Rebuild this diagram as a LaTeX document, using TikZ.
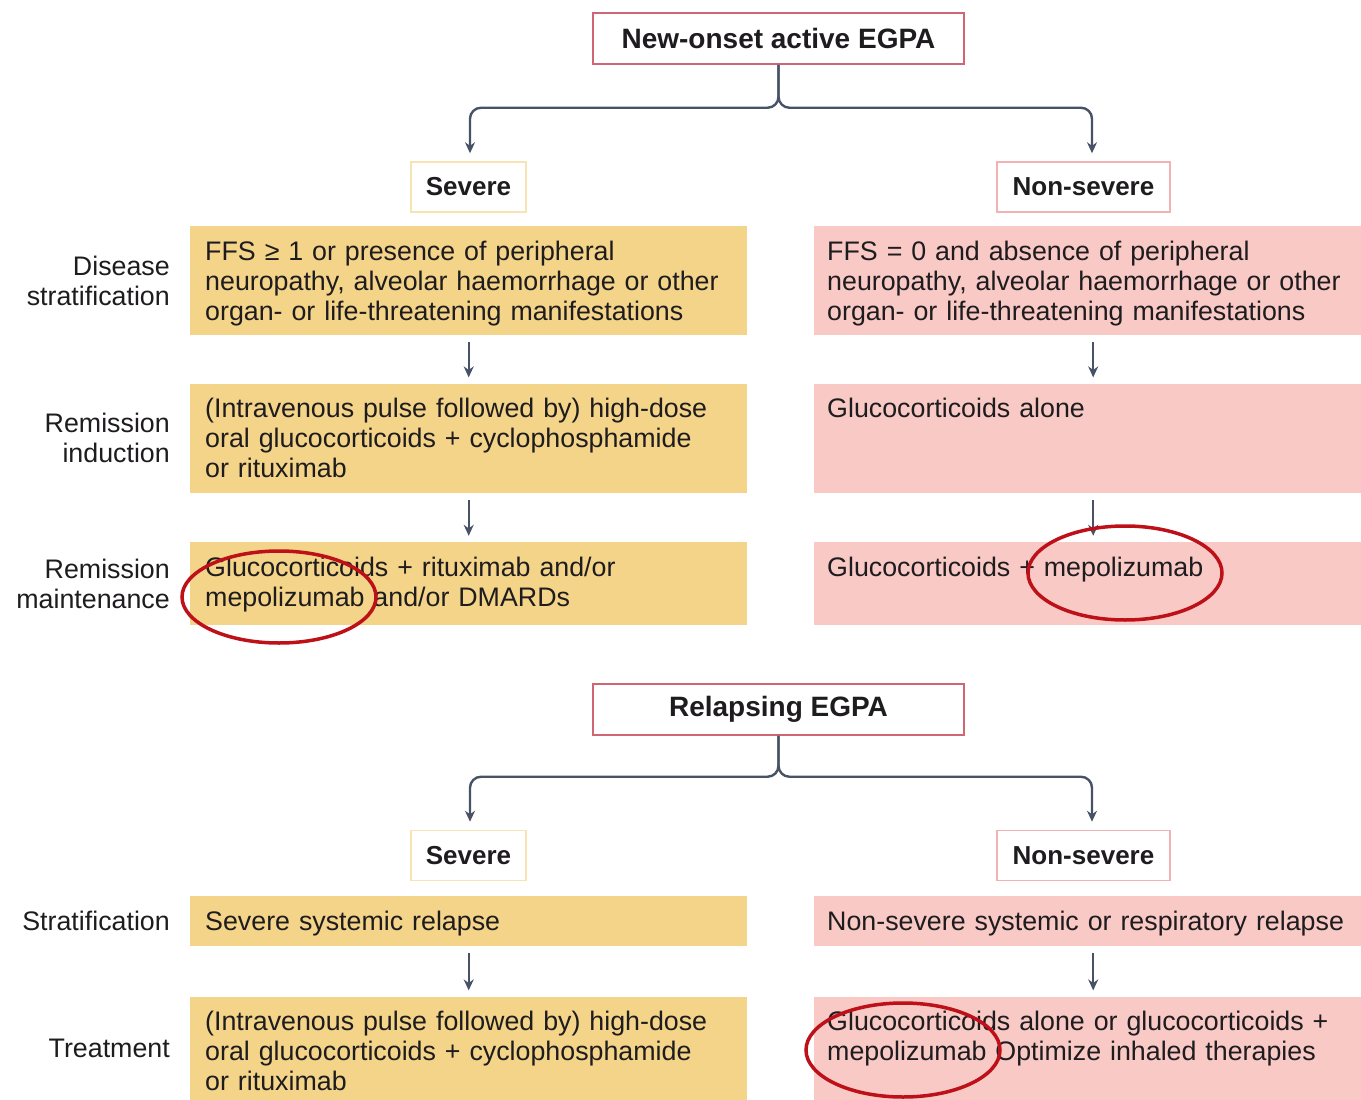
\documentclass[tikz,border=0pt]{standalone}
\usepackage{fontspec}
\setmainfont{Liberation Sans}
\usetikzlibrary{positioning,arrows.meta}
\definecolor{sand}{RGB}{243,212,136}
\definecolor{blush}{RGB}{248,201,197}
\definecolor{sandline}{RGB}{246,228,178}
\definecolor{blushline}{RGB}{240,178,178}
\definecolor{wine}{RGB}{208,102,116}
\definecolor{slate}{RGB}{72,82,102}
\definecolor{ink}{RGB}{30,28,30}
\definecolor{ringred}{RGB}{190,16,24}

\begin{document}
\begin{tikzpicture}[x=1pt, y=1pt,
    txt/.style={font=\fontsize{26.8}{30}\selectfont, text=ink},
    titlebox/.style={txt, font=\fontsize{28}{30}\selectfont\bfseries, draw=wine, line width=1.5pt, minimum width=371pt, minimum height=51pt, inner sep=0pt},
    sevhead/.style={txt, font=\fontsize{26}{30}\selectfont\bfseries, draw=sandline, line width=1.5pt, minimum height=50pt, inner sep=0pt},
    nonsevhead/.style={sevhead, draw=blushline},
    sandbox/.style={txt, fill=sand, text width=527pt, inner xsep=15pt, inner ysep=0pt, text height=34pt, align=left},
    blushbox/.style={txt, fill=blush, text width=521pt, inner xsep=13pt, inner ysep=0pt, text height=34pt, align=left},
    rowlabel/.style={txt, align=right, inner sep=0pt},
    branch/.style={-{Stealth[length=11pt,width=10pt]}, line width=2.4pt, draw=slate, rounded corners=11pt, shorten >=8pt},
    flow/.style={-{Stealth[length=11pt,width=10pt]}, line width=2.2pt, draw=slate, shorten <=7pt, shorten >=6pt},
    ring/.style={draw=ringred, line width=3.5pt}]

\useasboundingbox (0,0) rectangle (1361,-1100);

\node [titlebox] (newonset) at (778.5,-38.5) {New-onset active EGPA};
\node [sevhead, minimum width=115pt] (sev1) at (468.5,-187) {Severe};
\node [nonsevhead, minimum width=173pt] (nonsev1) at (1083.5,-187) {Non-severe};

\node [sandbox, text depth=75pt, anchor=north west] (s1) at (190,-226) {FFS ≥ 1 or presence of peripheral\\neuropathy, alveolar haemorrhage or other\\organ- or life-threatening manifestations};
\node [sandbox, text depth=75pt, below=48pt of s1] (s2) {(Intravenous pulse followed by) high-dose\\oral glucocorticoids + cyclophosphamide\\or rituximab};
\node [sandbox, text depth=49pt, below=49pt of s2] (s3) {Glucocorticoids + rituximab and/or\\mepolizumab and/or DMARDs};

\node [blushbox, text depth=75pt, anchor=north west] (p1) at (814,-226) {FFS = 0 and absence of peripheral\\neuropathy, alveolar haemorrhage or other\\organ- or life-threatening manifestations};
\node [blushbox, text depth=75pt, below=48pt of p1] (p2) {Glucocorticoids alone};
\node [blushbox, text depth=49pt, below=49pt of p2] (p3) {Glucocorticoids + mepolizumab};

\node [rowlabel, left=20pt of s1] (lbl1) {Disease\\stratification};
\node [rowlabel, left=20pt of s2] (lbl2) {Remission\\induction};
\node [rowlabel, left=20pt of s3] (lbl3) {Remission\\maintenance};

\node [titlebox] (relapsing) at (778.5,-709.5) {Relapsing EGPA};
\node [sevhead, minimum width=115pt] (sev2) at (468.5,-855.5) {Severe};
\node [nonsevhead, minimum width=173pt] (nonsev2) at (1083.5,-855.5) {Non-severe};

\node [sandbox, text depth=16pt, anchor=north west] (r1) at (190,-896) {Severe systemic relapse};
\node [sandbox, text depth=70pt, below=50pt of r1] (r2) {(Intravenous pulse followed by) high-dose\\oral glucocorticoids + cyclophosphamide\\or rituximab};
\node [blushbox, text depth=16pt, anchor=north west] (q1) at (814,-896) {Non-severe systemic or respiratory relapse};
\node [blushbox, text depth=70pt, below=50pt of q1] (q2) {Glucocorticoids alone or glucocorticoids +\\mepolizumab Optimize inhaled therapies};

\node [rowlabel, left=20pt of r1] (lbl4) {Stratification};
\node [rowlabel, left=20pt of r2] (lbl5) {Treatment};

\draw [branch] (newonset.south) -- ++(0,-43) -| ([xshift=1.5pt]sev1.north);
\draw [branch] (newonset.south) -- ++(0,-43) -| ([xshift=8.5pt]nonsev1.north);
\draw [branch] (relapsing.south) -- ++(0,-41) -| ([xshift=1.5pt]sev2.north);
\draw [branch] (relapsing.south) -- ++(0,-41) -| ([xshift=8.5pt]nonsev2.north);

\draw [flow] (s1) -- (s2);
\draw [flow] (s2) -- (s3);
\draw [flow] ([xshift=5.5pt]p1.south) -- ([xshift=5.5pt]p2.north);
\draw [flow] ([xshift=5.5pt]p2.south) -- ([xshift=5.5pt]p3.north);
\draw [flow] (r1) -- (r2);
\draw [flow] ([xshift=5.5pt]q1.south) -- ([xshift=5.5pt]q2.north);

\draw [ring] (279,-597) ellipse [x radius=97, y radius=46];
\draw [ring] (1125,-573) ellipse [x radius=97, y radius=47];
\draw [ring] (903,-1050) ellipse [x radius=97, y radius=47];

\end{tikzpicture}
\end{document}
